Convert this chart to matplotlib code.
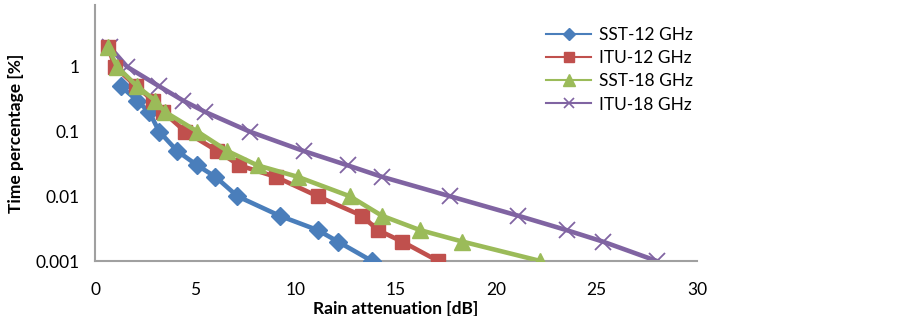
import matplotlib
matplotlib.use("Agg")
import matplotlib.pyplot as plt
from matplotlib.lines import Line2D

plt.rcParams['font.family'] = ['Lato', 'DejaVu Sans']

# time percentages
sst12_x = [1.3, 2.1, 2.7, 3.2, 4.1, 5.1, 6.0, 7.1, 9.2, 11.1, 12.1, 13.8]
sst12_y = [0.5, 0.3, 0.2, 0.1, 0.05, 0.03, 0.02, 0.01, 0.005, 0.003, 0.002, 0.001]

itu12_x = [0.65, 1.0, 2.05, 2.9, 3.4, 4.5, 6.1, 7.2, 9.0, 11.1, 13.3, 14.1, 15.3, 17.1]
itu12_y = [2, 1, 0.5, 0.3, 0.2, 0.1, 0.05, 0.03, 0.02, 0.01, 0.005, 0.003, 0.002, 0.001]

sst18_x = [0.65, 1.1, 2.1, 3.0, 3.5, 5.1, 6.6, 8.1, 10.1, 12.7, 14.3, 16.2, 18.3, 22.2]
sst18_y = [2, 1, 0.5, 0.3, 0.2, 0.1, 0.05, 0.03, 0.02, 0.01, 0.005, 0.003, 0.002, 0.001]

itu18_x = [0.75, 1.6, 3.2, 4.4, 5.5, 7.7, 10.4, 12.6, 14.3, 17.7, 21.1, 23.5, 25.3, 28.0]
itu18_y = [2, 1, 0.5, 0.3, 0.2, 0.1, 0.05, 0.03, 0.02, 0.01, 0.005, 0.003, 0.002, 0.001]

labels = ['SST-12 GHz', 'ITU-12 GHz', 'SST-18 GHz', 'ITU-18 GHz']
colors = ['#4A7EBB', '#C0504D', '#9BBB59', '#8064A2']

fig = plt.figure(figsize=(8.99, 3.16), dpi=100)
ax = fig.add_axes([0.1057, 0.174, 0.6696, 0.81])

ax.plot(itu18_x, itu18_y, color=colors[3], lw=3.3, marker='x', ms=12, mew=1.3, zorder=2)
ax.plot(sst12_x, sst12_y, color=colors[0], lw=3.3, marker='D', ms=9, zorder=3)
ax.plot(itu12_x, itu12_y, color=colors[1], lw=3.3, marker='s', ms=10, zorder=3)
ax.plot(sst18_x, sst18_y, color=colors[2], lw=3.3, marker='^', ms=12, zorder=4)

ax.set_yscale('log')
ax.set_xlim(0, 30)
ax.set_ylim(0.001, 9)
ax.set_xticks([0, 5, 10, 15, 20, 25, 30])
ax.set_yticks([0.001, 0.01, 0.1, 1])
ax.set_yticklabels(['0.001', '0.01', '0.1', '1'])
ax.minorticks_off()
ax.tick_params(length=0, labelsize=12.5, colors='black')
ax.tick_params(axis='x', pad=15)
ax.tick_params(axis='y', pad=11)

for s in ['top', 'right']:
    ax.spines[s].set_visible(False)
for s in ['left', 'bottom']:
    ax.spines[s].set_color('#A0A0A0')
    ax.spines[s].set_linewidth(1.5)

ax.set_xlabel('Rain attenuation [dB]', fontsize=12.5, fontweight='bold')
ax.xaxis.set_label_coords(0.5, -0.155)
ax.set_ylabel('Time percentage [%]', fontsize=12.5, fontweight='bold')
ax.yaxis.set_label_coords(-0.118, 0.5)

handles = [
    Line2D([], [], color=colors[0], lw=1.5, marker='D', ms=6.5),
    Line2D([], [], color=colors[1], lw=1.5, marker='s', ms=7),
    Line2D([], [], color=colors[2], lw=1.5, marker='^', ms=8),
    Line2D([], [], color=colors[3], lw=1.5, marker='x', ms=7, mew=1.2),
]
fig.legend(handles, labels, loc='upper left', bbox_to_anchor=(0.590, 0.965),
           frameon=False, fontsize=12.5, handlelength=2.6, handletextpad=0.45,
           labelspacing=0.42)

fig.savefig('out.png', dpi=100)
